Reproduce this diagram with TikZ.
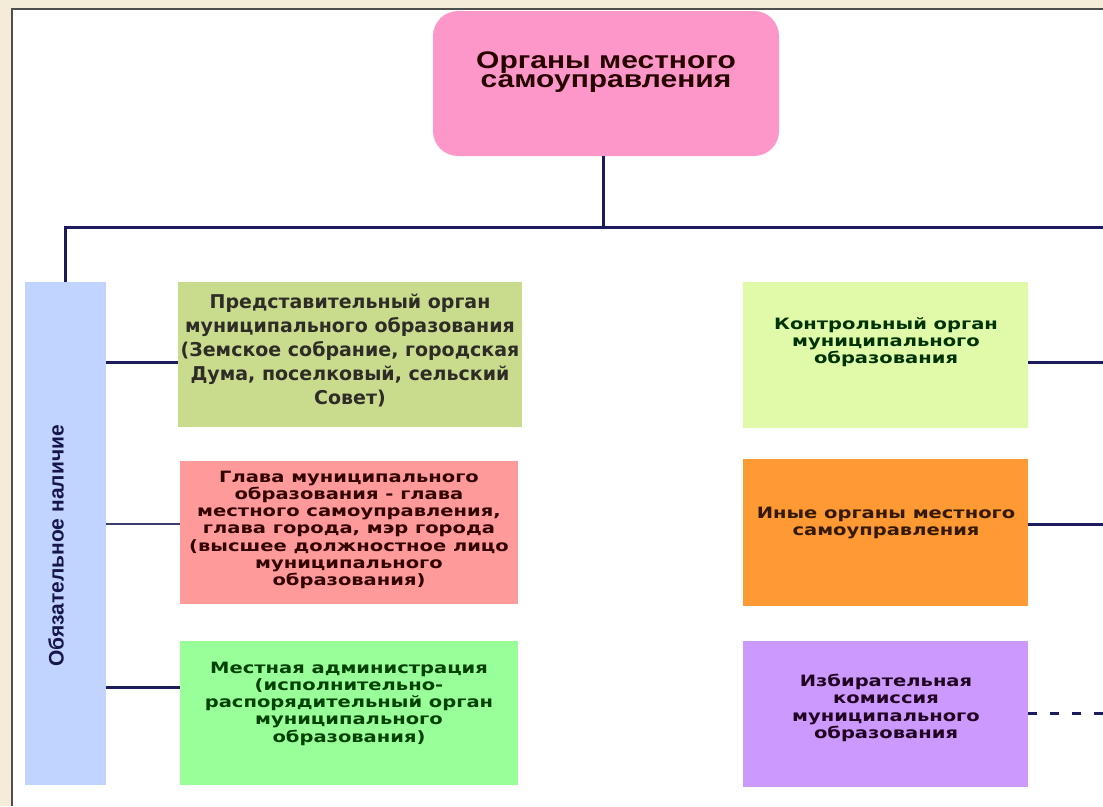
\documentclass[tikz,border=0pt]{standalone}
\usepackage{fontspec}
\usepackage{graphicx}
\setmainfont{DejaVu Sans}
\newfontfamily\arialf{Liberation Sans}
\definecolor{beige}{HTML}{F4EBD9}
\definecolor{framec}{HTML}{4E4E4E}
\definecolor{navy}{HTML}{1B1B5E}
\definecolor{pinkc}{HTML}{FE97C9}
\definecolor{bluec}{HTML}{C0D4FF}
\definecolor{oliv}{HTML}{C9DC8E}
\definecolor{salm}{HTML}{FF9A9A}
\definecolor{lgreen}{HTML}{99FF99}
\definecolor{lyg}{HTML}{E0FAAA}
\definecolor{orng}{HTML}{FF9933}
\definecolor{purp}{HTML}{CC99FF}
\newcommand\sq[2]{\scalebox{1}[#1]{\begin{tabular}{@{}c@{}}#2\end{tabular}}}
\begin{document}
\begin{tikzpicture}[x=1pt,y=-1pt,
  box/.style={rectangle, inner sep=0pt, outer sep=0pt, draw=none},
  txt/.style={inner sep=0pt, outer sep=0pt},
  bodyf/.style={font=\bfseries\fontsize{19}{24}\selectfont},
  sqf/.style={font=\bfseries\fontsize{19.5}{21.5}\selectfont},
  conn/.style={draw=navy, line width=3pt},
  thinconn/.style={draw=navy!85!white, line width=2pt}]
\useasboundingbox (0,0) rectangle (1103,806);
\fill[beige] (0,0) rectangle (1103,806);
\fill[white] (12,9) rectangle (1103,806);
\draw[framec, line width=2.5pt] (12,806) -- (12,9) -- (1103,9);

% top box
\node[box, fill=pinkc, rounded corners=25pt, minimum width=346pt, minimum height=145pt] (top) at (606,83.5) {};
\node[txt, text=black!85!red] (toptxt) at (606,72.5) {\arialf\bfseries\fontsize{30}{24.5}\selectfont\sq{0.8}{Органы местного\\самоуправления}};

% bar
\node[box, fill=bluec, minimum width=81pt, minimum height=503pt] (bar) at (65.5,533.5) {};
\node[txt, rotate=90, text=navy!80!black] (bartxt) at (56,546) {\arialf\bfseries\fontsize{21}{24}\selectfont Обязательное наличие};

% left boxes
\node[box, fill=oliv, minimum width=344pt, minimum height=145pt] (L1) at (350,354.5) {};
\node[txt, bodyf, text=black!88!olive] (L1t) at (350,352) {\sq{1}{Представительный орган\\муниципального образования\\(Земское собрание, городская\\Дума, поселковый, сельский\\Совет)}};

\node[box, fill=salm, minimum width=338pt, minimum height=143pt] (L2) at (349,532.5) {};
\node[txt, sqf, text=black!80!red] (L2t) at (349,530.5) {\sq{0.8}{Глава муниципального\\образования - глава\\местного самоуправления,\\глава города, мэр города\\(высшее должностное лицо\\муниципального\\образования)}};

\node[box, fill=lgreen, minimum width=338pt, minimum height=144pt] (L3) at (349,713) {};
\node[txt, sqf, text=black!75!green] (L3t) at (349,704.5) {\sq{0.8}{Местная администрация\\(исполнительно-\\распорядительный орган\\муниципального\\образования)}};

% right boxes
\node[box, fill=lyg, minimum width=285pt, minimum height=146pt] (R1) at (885.5,355) {};
\node[txt, sqf, text=black!80!green] (R1t) at (886,343) {\sq{0.8}{Контрольный орган\\муниципального\\образования}};

\node[box, fill=orng, minimum width=285pt, minimum height=147pt] (R2) at (885.5,532.5) {};
\node[txt, sqf, text=black!80!orange] (R2t) at (886,523.5) {\sq{0.8}{Иные органы местного\\самоуправления}};

\node[box, fill=purp, minimum width=285pt, minimum height=146pt] (R3) at (885.5,714) {};
\node[txt, sqf, text=black!75!violet] (R3t) at (886,709) {\sq{0.8}{Избирательная\\комиссия\\муниципального\\образования}};

% connectors
\coordinate (busL) at (65,227);
\coordinate (busR) at (1103,227);
\coordinate (r1end) at (1103,362);
\coordinate (r2end) at (1103,524);
\coordinate (r3end) at (1103,713);
\draw[conn] ([xshift=-3pt]top.south) -- ([xshift=-3pt]top.south |- busL);
\draw[conn] (bar.north) -- (bar.north |- busL) -- (busR);
\draw[conn] (bar.east |- 0,362) -- (L1.west |- 0,362);
\draw[thinconn] (bar.east |- 0,524) -- (L2.west |- 0,524);
\draw[conn] (bar.east |- 0,687) -- (L3.west |- 0,687);
\draw[conn] (R1.east |- r1end) -- (r1end);
\draw[conn] (R2.east |- r2end) -- (r2end);
\draw[conn, dash pattern=on 9pt off 13pt] (R3.east |- r3end) -- (r3end);
\end{tikzpicture}
\end{document}
